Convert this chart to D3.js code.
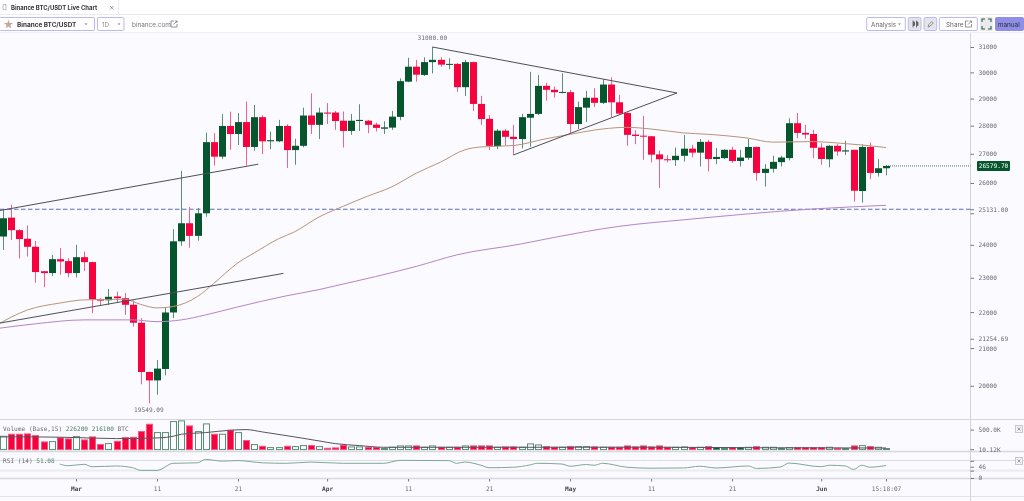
<!DOCTYPE html>
<html><head><meta charset="utf-8">
<style>
html,body{margin:0;padding:0;background:#fff;overflow:hidden}
svg{display:block;filter:blur(0.3px)}
.mono{font-family:"DejaVu Sans Mono",monospace;font-size:6.15px;fill:#6b6b73}
.ui{font-family:Inter,"Open Sans",sans-serif;font-size:6.4px;fill:#55555f}
.axis path,.axis line{stroke:#77777f}
.axis path{display:none}
.axis text{font-family:"DejaVu Sans Mono",monospace;font-size:6.15px;fill:#6b6b73}
</style></head><body>
<svg id="c" width="1024" height="501"></svg>
<script src="https://cdn.jsdelivr.net/npm/d3@7"></script>
<script>
// Day index 0 is 1 March; the first candle is index -9.
const firstDay = -9;
const candleOpen = [24260,24860,24460,24190,23940,23195,23140,23560,23500,
23140,23620,23470,22370,22340,22450,22400,22210,21700,20360,
20140,20440,21990,24110,24680,24280,25000,27410,26900,27990,
27700,28130,27240,28310,27440,27440,27990,27130,27280,28370,
28030,28480,28480,28180,27810,28170,28180,28040,27890,27930,
28320,29640,30220,29900,30400,30490,30300,30330,29430,30400,
28800,28250,27270,27820,27600,27520,28290,28430,29480,29330,
29230,29240,28060,28660,29030,28840,29530,28860,28460,27680,
27640,27620,26980,26810,26780,26930,27180,27040,27420,26820,
26850,27140,26750,26860,27240,26340,26480,26710,26850,28090,
27740,27700,27220,26810,27280,27080,27140,25730,27240,26340,
26500];
const candleHigh = [25110,25280,24490,24610,24120,23200,23690,23900,23590,
24000,23790,23480,22400,22670,22590,22550,22330,21830,20370,
20680,22140,24490,26410,25200,25170,27750,27730,28420,28510,
28460,28890,28760,28380,27790,28210,28050,27530,28660,29200,
28660,28830,28540,28520,28430,28790,28210,28110,28160,28540,
29770,30570,30490,30590,31000,30590,30550,30370,30490,30420,
29100,28390,27880,27870,28030,28430,30020,29900,29600,29450,
29960,29330,28890,29290,29390,29730,29810,29140,28490,27840,
28360,27630,27110,26960,27220,27670,27310,27520,27490,27200,
27160,27250,27140,27520,27250,26640,26930,26930,28270,28460,
28030,27850,27370,27310,27340,27460,27140,27330,27400,26810,
26600];
const candleLow = [23840,24150,23580,23640,22850,22720,23050,23090,23010,
23010,23200,21970,22180,22210,22260,21920,21590,20040,19549,
19770,20270,21830,23970,23910,24130,24890,26590,26820,27140,
27310,26590,27110,26990,27160,27410,26510,26620,27230,27700,
27520,28060,27850,27220,27670,27810,27730,27790,27700,27850,
28200,29620,29640,29860,29960,30220,30120,29250,29100,28540,
28030,27130,27160,27300,26960,27190,27250,28390,28920,29030,
29200,27730,27880,28130,28680,28800,28310,28390,27280,27340,
26790,26700,25830,26700,26580,26730,26880,26560,26390,26640,
26820,26680,26560,26790,26080,25880,26350,26560,26770,27550,
27530,26850,26620,26530,26930,26960,25380,25350,26130,26220,
26260];
const candleClose = [24840,24460,24180,23940,23170,23140,23560,23490,23140,
23620,23470,22370,22330,22440,22400,22210,21700,20360,20140,
20450,21990,24110,24680,24280,25000,27410,26900,27990,27700,
28130,27240,28310,27440,27480,27990,27130,27280,28370,28030,
28480,28440,28170,27810,28180,28210,28030,27920,27940,28330,
29660,30220,29910,30400,30490,30300,30330,29430,30400,28800,
28240,27280,27820,27600,27520,28310,28430,29480,29330,29240,
29250,28060,28680,29030,28840,29530,28860,28440,27670,27630,
27610,26970,26810,26780,26930,27180,27040,27420,26820,26890,
27140,26750,26870,27240,26340,26480,26720,26870,28090,27740,
27680,27210,26820,27280,27080,27120,25740,27240,26340,26500,
26580];
const volume = [333,383,383,392,350,192,200,292,267,
325,242,317,125,150,208,300,308,450,633,
425,425,700,717,592,450,642,383,383,483,
425,225,125,83,50,50,83,75,100,100,
75,33,42,108,67,67,58,50,25,58,
92,92,92,58,92,58,58,58,92,92,
92,92,58,67,67,58,142,117,75,58,
58,75,75,75,67,58,58,58,92,67,
92,67,92,58,58,67,50,58,75,50,
33,50,50,58,75,58,58,33,50,50,
50,50,50,58,33,25,92,100,75,58,
25];
const solidGreenVolumeDays = [38,79,80,82,87,95,100];

const ma50Days   = [-10,-6,-2,1,6,8,10,12,15,17,20,22,25,27,30,33,36,39,42,45,48,50,54,58,61,65,68,71,75,78,83,86,91,94,97,100];
const ma50Values = [21610,22060,22260,22350,22370,22220,22120,22160,22450,22830,23450,23750,24190,24410,24880,25230,25560,25870,26330,26710,27140,27240,27290,27530,27690,27880,27940,27880,27740,27690,27550,27410,27430,27380,27310,27220];
const ma200Days   = [-10,-5,1,7,10,13,16,20,26,30,32,37,42,47,55,59,67,75,91,100];
const ma200Values = [21530,21670,21780,21780,21730,21780,21920,22150,22470,22650,22760,23036,23340,23690,24030,24230,24580,24790,25140,25260];
const volMaDays   = [-10,-5,0,5,10,12,13,16,19,21,23,27,30,32,35,38,50,70,85,100];
const volMaValues = [317,317,300,275,292,333,383,425,483,500,442,317,217,150,100,58,58,60,45,40];
const rsiDays   = [-2,-1,1,2,5,7,8,10,12,15,16,18,20,23,26,29,33,38,40,46,47,48,50,51,54,56,57,60,61,63,64,65,68,71,75,77,79,83,84,87,88,92,93,95,96,97,98,100];
const rsiValues = [57,50,56,46,49,42,31,31,60,62,76,69,71,62,60,65,60,60,72,71,60,65,52,42,44,53,60,57,48,55,52,60,44,40,41,48,41,49,39,45,61,46,52,49,35,52,44,51];

const trendLines = [
  {d:[44,74.2], v:[31000,29210]},
  {d:[54,74.2], v:[26960,29210]},
  {d:[-9.4,22.5], v:[25090,26640]},
  {d:[-9.4,25.6], v:[21690,23130]}
];
const priceTicks = [31000,30000,29000,28000,27000,26000,25131,25000,24000,23000,22000,21254.69,21000,20000];
const priceTickLabels = ["31000","30000","29000","28000","27000","26000","25131.00","","24000","23000","22000","21254.69","21000","20000"];
const xTickDays = [0,10,20,31,41,51,61,71,81,92,100];
const xTickLabels = ["Mar","11","21","Apr","11","21","May","11","21","Jun","15:18:07"];
const boldXLabels = ["Mar","Apr","May","Jun"];
const levelPrice = 25131, lastClose = 26579.70, highLabel = "31000.00", lowLabel = "19549.09";
const volTicks = [500,10.12], volLabels = ["500.0K","10.12K"];
const rsiTicks = [70,46,30,0], rsiLabels = ["","46","","0"];

const RED="#f5023f", GREEN="#06562d", REDW="#f4628a", GREENW="#5a8e76";
const W=1024,H=501, axisX=970.5;
const svg=d3.select("#c");
const x=d3.scaleLinear().domain([0,100]).range([76,886]);
const y=d3.scaleLog().domain([31000,20000]).range([47,385.8]);
const yV=d3.scaleLinear().domain([0,722]).range([449.6,420.7]);
const yR=d3.scaleLinear().domain([0,100]).range([478,453.5]);
const days=candleOpen.map((_,i)=>i+firstDay);

// background
svg.append("rect").attr("width",W).attr("height",H).attr("fill","#fbfaff");
svg.append("rect").attr("width",W).attr("height",32).attr("fill","#ffffff");

// panel rules
const rule=(y1,c,w)=>svg.append("line").attr("x1",0).attr("x2",W).attr("y1",y1).attr("y2",y1).attr("stroke",c).attr("stroke-width",w||1);
rule(419.5,"#d5d5da");rule(451.5,"#d8d8dd",1.5);rule(460.5,"#dcdce0");rule(470.5,"#ececf0",2);rule(478.5,"#d8d8dd",1.5);rule(496.5,"#e2e2e6");
svg.append("line").attr("x1",axisX).attr("x2",axisX).attr("y1",32).attr("y2",H).attr("stroke","#d3d3d8");

// level line
svg.append("line").attr("x1",0).attr("x2",axisX).attr("y1",y(levelPrice)).attr("y2",y(levelPrice))
 .attr("stroke","#5a69bd").attr("stroke-dasharray","4.5 2.5").attr("stroke-width",1);
svg.append("line").attr("x1",x(100)).attr("x2",axisX).attr("y1",y(lastClose)).attr("y2",y(lastClose))
 .attr("stroke","#4d7d66").attr("stroke-dasharray","1 1");

// candles
const snap=v=>Math.round(v);
const g=svg.append("g");
g.selectAll("line.w").data(days).join("line").attr("class","w")
 .attr("x1",d=>snap(x(d))+.5).attr("x2",d=>snap(x(d))+.5)
 .attr("y1",(d,i)=>y(candleHigh[i])).attr("y2",(d,i)=>y(candleLow[i]))
 .attr("stroke",(d,i)=>candleClose[i]>=candleOpen[i]?GREENW:REDW);
g.selectAll("rect.b").data(days).join("rect").attr("class","b")
 .attr("x",d=>snap(x(d))-3).attr("width",7)
 .attr("y",(d,i)=>y(Math.max(candleOpen[i],candleClose[i])))
 .attr("height",(d,i)=>Math.max(1,y(Math.min(candleOpen[i],candleClose[i]))-y(Math.max(candleOpen[i],candleClose[i]))))
 .attr("fill",(d,i)=>candleClose[i]>=candleOpen[i]?GREEN:RED);

// moving averages
const lineGen=(sy)=>d3.line().x(p=>x(p[0])).y(p=>sy(p[1])).curve(d3.curveMonotoneX);
const pairs=(a,b)=>a.map((d,i)=>[d,b[i]]);
svg.append("path").attr("d",lineGen(y)(pairs(ma50Days,ma50Values))).attr("fill","none").attr("stroke","#b79479").attr("stroke-width",1);
svg.append("path").attr("d",lineGen(y)(pairs(ma200Days,ma200Values))).attr("fill","none").attr("stroke","#b386c6").attr("stroke-width",1);

// drawn trend lines
trendLines.forEach(t=>svg.append("line").attr("x1",x(t.d[0])).attr("x2",x(t.d[1])).attr("y1",y(t.v[0])).attr("y2",y(t.v[1])).attr("stroke","#4f4f58").attr("stroke-width",1));

// high/low labels
svg.append("text").attr("class","mono").attr("x",x(44)).attr("y",y(31000)-7).attr("text-anchor","middle").text(highLabel);
svg.append("text").attr("class","mono").attr("x",x(9)).attr("y",y(19549.09)+9).attr("text-anchor","middle").text(lowLabel);

// volume
const vb=svg.append("g");
vb.selectAll("rect").data(days).join("rect")
 .attr("x",d=>snap(x(d))-3+.5).attr("width",6)
 .attr("y",(d,i)=>yV(volume[i])).attr("height",(d,i)=>yV(0)-yV(volume[i]))
 .attr("fill",(d,i)=>{const up=candleClose[i]>=candleOpen[i];return !up?RED:(solidGreenVolumeDays.includes(d)?GREEN:"none");})
 .attr("stroke",(d,i)=>candleClose[i]>=candleOpen[i]?"#5a8e76":"#f5587f");
svg.append("path").attr("d",lineGen(yV)(pairs(volMaDays,volMaValues))).attr("fill","none").attr("stroke","#55555c").attr("stroke-width",1);

// rsi
svg.append("path").attr("d",lineGen(yR)(pairs(rsiDays,rsiValues))).attr("fill","none").attr("stroke","#7fa896").attr("stroke-width",1);

// panel titles
const vt=svg.append("text").attr("class","mono").attr("x",3).attr("y",430.8);
vt.append("tspan").text("Volume (Base,15) ");
vt.append("tspan").attr("style","fill:#4d8068").text("226200 216100");
vt.append("tspan").text(" BTC");
const rt=svg.append("text").attr("class","mono").attr("x",3).attr("y",463.2);
rt.append("tspan").text("RSI (14) ");
rt.append("tspan").attr("style","fill:#4d8068").text("51.08");

// axes
const priceAxis=d3.axisRight(y).tickValues(priceTicks).tickSize(3.5).tickPadding(4.5).tickFormat((d,i)=>priceTickLabels[i]);
svg.append("g").attr("class","axis").attr("transform",`translate(${axisX},0)`).call(priceAxis);
const volAxis=d3.axisRight(yV).tickValues(volTicks).tickSize(3.5).tickPadding(4.5).tickFormat((d,i)=>volLabels[i]);
svg.append("g").attr("class","axis").attr("transform",`translate(${axisX},0)`).call(volAxis);
const rsiAxis=d3.axisRight(yR).tickValues(rsiTicks).tickSize(3.5).tickPadding(4.5).tickFormat((d,i)=>rsiLabels[i]);
svg.append("g").attr("class","axis").attr("transform",`translate(${axisX},0)`).call(rsiAxis);
const timeAxis=d3.axisBottom(x).tickValues(xTickDays).tickSize(2.5).tickPadding(5).tickFormat((d,i)=>xTickLabels[i]);
const ta=svg.append("g").attr("class","axis").attr("transform","translate(0,479)").call(timeAxis);
ta.selectAll("line").attr("stroke","#b9b9c0");
ta.selectAll("text").style("font-weight",function(){return boldXLabels.includes(this.textContent)?"700":"400"}).style("fill",function(){return boldXLabels.includes(this.textContent)?"#45454d":"#6b6b73"});

// last price tag
svg.append("rect").attr("x",977).attr("y",y(lastClose)-5).attr("width",33).attr("height",10).attr("rx",1).attr("fill",GREEN);
svg.append("text").attr("class","mono").attr("style","fill:#fff").attr("x",993.5).attr("y",y(lastClose)+2.2).attr("text-anchor","middle").text(lastClose.toFixed(2));

// panel close boxes
[[1015,425],[1015,457]].forEach(b=>{
 svg.append("rect").attr("x",b[0]+.5).attr("y",b[1]+.5).attr("width",7).attr("height",7).attr("fill","#f3f3f6").attr("stroke","#c8c8ce");
 svg.append("path").attr("d",`M${b[0]+2.5} ${b[1]+2.5}l3 3m0 -3l-3 3`).attr("stroke","#777").attr("stroke-width",.7);
});

// top chrome
const ui=svg.append("g");
ui.append("line").attr("x1",0).attr("x2",W).attr("y1",14.5).attr("y2",14.5).attr("stroke","#ebebf2");
ui.append("line").attr("x1",0).attr("x2",W).attr("y1",32.5).attr("y2",32.5).attr("stroke","#efeff4");
ui.append("line").attr("x1",118.5).attr("x2",118.5).attr("y1",0).attr("y2",14).attr("stroke","#ebebf2");
const btn=(x0,x1,fill,stroke)=>ui.append("rect").attr("x",x0).attr("y",17.5).attr("width",x1-x0).attr("height",13).attr("rx",1.5).attr("fill",fill||"#fff").attr("stroke",stroke||"#b9b9f4");
const label=(t,x0,yy,w,c,s)=>ui.append("text").attr("class","ui").attr("x",x0).attr("y",yy).style("font-weight",w||400).style("fill",c||"#66666f").style("font-size",(s||6.4)+"px").text(t);
const caret=(cx,yy)=>ui.append("path").attr("d",`M${cx-1.5} ${yy-1}h3l-1.5 1.5z`).attr("fill","#7a7a82");
label("Binance BTC/USDT Live Chart",11,10,700,"#33333c",5.95);
ui.append("path").attr("d","M3 4.5h3v5h-3zM5 5h1").attr("fill","none").attr("stroke","#999").attr("stroke-width",.6);
ui.append("path").attr("d","M110 6l3.5 3.5m0 -3.5l-3.5 3.5").attr("stroke","#777").attr("stroke-width",.7);
btn(-1,94.5);btn(97.5,124);
ui.append("path").attr("d",d3.symbol(d3.symbolStar,28)()).attr("transform","translate(8.5,24.5)").attr("fill","#c3a897");
label("Binance BTC/USDT",17,26.5,700,"#33333c");caret(86,24.5);
label("1D",102,26.5,400,"#8b8b93");caret(119,24.5);
label("binance.com",132,26.5,400,"#77777f");
const ext=(x0,yy)=>ui.append("path").attr("d",`M${x0+3} ${yy}h-3v6h6v-3M${x0+2.5} ${yy+3.5}l3.5 -3.5m-2 0h2v2`).attr("fill","none").attr("stroke","#66666f").attr("stroke-width",.7);
ext(171,21);
btn(866.7,905.3);label("Analysis",871,26.5);caret(899.5,24.5);
btn(908.3,921,"#e4e4ea");btn(924,936.7,"#e4e4ea");
ui.append("path").attr("d","M913 20.5v7M913 22h1.5v3.5h-1.5M916.5 20.5v7M916.5 22h1.5v3.5h-1.5").attr("fill","#66666f").attr("stroke","#55555f").attr("stroke-width",.8);
ui.append("path").attr("d","M928 27l.8 -2.5 3 -3 1.5 1.5 -3 3z").attr("fill","none").attr("stroke","#66666f").attr("stroke-width",.7);
btn(939.3,977.3);label("Share",946,26.5);ext(965.5,21);
ui.append("rect").attr("x",980).attr("y",17).attr("width",13).attr("height",14).attr("rx",1.5).attr("fill","#e9e9ee");
ui.append("path").attr("d","M982 22v-3h3M988 19h3v3M991 26v3h-3M985 29h-3v-3").attr("fill","none").attr("stroke","#2d5d49").attr("stroke-width",1.1);
ui.append("rect").attr("x",995.5).attr("y",17.5).attr("width",28).attr("height",13).attr("rx",1).attr("fill","#8f8fe6").attr("stroke","#8f8fe6");
label("manual",997.8,26.5,400,"#2d2d40",6.4);
</script>
</body></html>
